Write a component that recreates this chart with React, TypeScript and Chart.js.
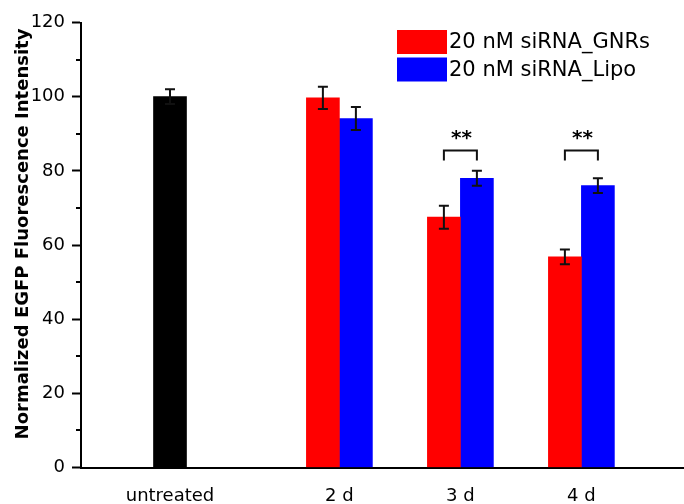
import { useEffect, useRef } from "react";
import { Chart, registerables } from "chart.js";

Chart.register(...registerables);

// Groups along the x axis and where each sits on the (linear) x scale
const categories = ["untreated", "2 d", "3 d", "4 d"];
const categoryX = [1, 2.4, 3.4, 4.4];

// Normalized EGFP fluorescence (mean and ± error)
const untreatedMean = [100, null, null, null];
const untreatedErr = [2, null, null, null];
const gnrsMean = [null, 99.7, 67.5, 56.8];
const gnrsErr = [null, 3.0, 3.1, 2.0];
const lipoMean = [null, 94.1, 78.0, 76.0];
const lipoErr = [null, 3.1, 2.0, 2.0];

const seriesLabels = ["untreated", "20 nM siRNA_GNRs", "20 nM siRNA_Lipo"];

// Significance brackets between the GNRs and Lipo bars
const significance = [
  { category: "3 d", label: "**", y: 85.5 },
  { category: "4 d", label: "**", y: 85.5 },
];

const yMin = 0;
const yMax = 120;
const yStep = 20;
const yTitle = "Normalized EGFP Fluorescence Intensity";

const FONT = "DejaVu Sans";

const toPoints = (values: (number | null)[]) =>
  values.map((y, i) => ({ x: categoryX[i], y }));

// Vertical error bars with caps on every non-empty bar
const errorBarsPlugin = {
  id: "errorBars",
  afterDatasetsDraw(chart: any) {
    const { ctx } = chart;
    const yScale = chart.scales.y;
    chart.data.datasets.forEach((ds: any, di: number) => {
      const meta = chart.getDatasetMeta(di);
      meta.data.forEach((bar: any, i: number) => {
        const v = ds.data[i].y;
        const e = ds.errors?.[i];
        if (v == null || e == null) return;
        const top = yScale.getPixelForValue(v + e);
        const bot = yScale.getPixelForValue(v - e);
        const cap = 5;
        ctx.save();
        ctx.strokeStyle = "#111";
        ctx.lineWidth = 2;
        ctx.beginPath();
        ctx.moveTo(bar.x, top);
        ctx.lineTo(bar.x, bot);
        ctx.moveTo(bar.x - cap, top);
        ctx.lineTo(bar.x + cap, top);
        ctx.moveTo(bar.x - cap, bot);
        ctx.lineTo(bar.x + cap, bot);
        ctx.stroke();
        ctx.restore();
      });
    });
  },
};

// Minor tick marks halfway between the labelled y ticks
const minorTicksPlugin = {
  id: "minorTicks",
  afterDraw(chart: any) {
    const { ctx, chartArea } = chart;
    const yScale = chart.scales.y;
    ctx.save();
    ctx.strokeStyle = "#000";
    ctx.lineWidth = 2;
    ctx.beginPath();
    for (let v = yMin + yStep / 2; v < yMax; v += yStep) {
      const py = Math.round(yScale.getPixelForValue(v));
      ctx.moveTo(chartArea.left - 5, py);
      ctx.lineTo(chartArea.left, py);
    }
    ctx.stroke();
    ctx.restore();
  },
};

// Brackets with stars over each compared pair
const significancePlugin = {
  id: "significance",
  afterDatasetsDraw(chart: any) {
    const { ctx } = chart;
    const yScale = chart.scales.y;
    const gnrsMeta = chart.getDatasetMeta(1);
    const lipoMeta = chart.getDatasetMeta(2);
    significance.forEach((s) => {
      const idx = categories.indexOf(s.category);
      const x1 = gnrsMeta.data[idx].x;
      const x2 = lipoMeta.data[idx].x;
      const py = yScale.getPixelForValue(s.y);
      const leg = 10;
      ctx.save();
      ctx.strokeStyle = "#111";
      ctx.lineWidth = 2;
      ctx.beginPath();
      ctx.moveTo(x1, py + leg);
      ctx.lineTo(x1, py);
      ctx.lineTo(x2, py);
      ctx.lineTo(x2, py + leg);
      ctx.stroke();
      ctx.fillStyle = "#000";
      ctx.font = `bold 20px "${FONT}"`;
      ctx.textAlign = "center";
      ctx.textBaseline = "alphabetic";
      ctx.fillText(s.label, (x1 + x2) / 2 + 1, py - 6);
      ctx.restore();
    });
  },
};

// Legend boxes in the upper right, for the two treatment series
const legendPlugin = {
  id: "boxLegend",
  afterDraw(chart: any) {
    const { ctx } = chart;
    const boxW = 50;
    const boxH = 24;
    const rowH = 27.5;
    const left = 397;
    const top = 30;
    ctx.save();
    ctx.font = `21px "${FONT}"`;
    ctx.textBaseline = "middle";
    ctx.textAlign = "left";
    chart.data.datasets.slice(1).forEach((ds: any, i: number) => {
      const y = top + i * rowH;
      ctx.fillStyle = ds.backgroundColor;
      ctx.fillRect(left, y, boxW, boxH);
      ctx.fillStyle = "#000";
      ctx.fillText(ds.label, left + boxW + 2, y + boxH / 2 + 1);
    });
    ctx.restore();
  },
};

// Rotated y-axis title
const yTitlePlugin = {
  id: "yTitle",
  afterDraw(chart: any) {
    const { ctx, chartArea } = chart;
    const cy = (chartArea.top + chartArea.bottom) / 2 - 11;
    ctx.save();
    ctx.translate(28, cy);
    ctx.rotate(-Math.PI / 2);
    ctx.font = `bold 18px "${FONT}"`;
    ctx.fillStyle = "#000";
    ctx.textAlign = "center";
    ctx.textBaseline = "alphabetic";
    ctx.fillText(yTitle, 0, 0);
    ctx.restore();
  },
};

export default function App() {
  const canvasRef = useRef<HTMLCanvasElement | null>(null);

  useEffect(() => {
    if (!canvasRef.current) return;
    const chart = new Chart(canvasRef.current, {
      type: "bar",
      data: {
        datasets: [
          {
            label: seriesLabels[0],
            data: toPoints(untreatedMean),
            errors: untreatedErr,
            backgroundColor: "#000000",
          } as any,
          {
            label: seriesLabels[1],
            data: toPoints(gnrsMean),
            errors: gnrsErr,
            backgroundColor: "#ff0000",
          } as any,
          {
            label: seriesLabels[2],
            data: toPoints(lipoMean),
            errors: lipoErr,
            backgroundColor: "#0000ff",
          } as any,
        ],
      },
      options: {
        animation: false,
        responsive: false,
        devicePixelRatio: 1,
        skipNull: true,
        barThickness: 33,
        borderWidth: 0,
        layout: { padding: { top: 22.5, right: 0, bottom: 0, left: 0 } },
        plugins: {
          legend: { display: false },
          tooltip: { enabled: false },
        },
        scales: {
          x: {
            type: "linear",
            min: 0.2645,
            max: 5.248,
            offset: false,
            afterBuildTicks: (scale: any) => {
              scale.ticks = categoryX.map((v) => ({ value: v }));
            },
            afterFit: (scale: any) => {
              scale.height = 36.5;
            },
            grid: { display: false, drawTicks: false },
            border: { display: true, color: "#000", width: 2 },
            ticks: {
              autoSkip: false,
              maxRotation: 0,
              padding: 18,
              color: "#000",
              font: { family: FONT, size: 18 },
              callback: (_v: any, i: number) => categories[i],
            },
          },
          y: {
            min: yMin,
            max: yMax,
            afterFit: (scale: any) => {
              scale.width = 81;
            },
            grid: {
              drawOnChartArea: false,
              drawTicks: true,
              tickLength: 9,
              tickWidth: 2,
              tickColor: "#000",
            },
            border: { display: true, color: "#000", width: 2 },
            ticks: {
              stepSize: yStep,
              padding: 7,
              color: "#000",
              font: { family: FONT, size: 18 },
            },
          },
        },
      } as any,
      plugins: [
        errorBarsPlugin,
        minorTicksPlugin,
        significancePlugin,
        legendPlugin,
        yTitlePlugin,
      ],
    });
    return () => chart.destroy();
  }, []);

  return (
    <div
      style={{
        position: "absolute",
        left: 0,
        top: 0,
        width: 684,
        height: 504,
        background: "#fff",
      }}
    >
      <canvas ref={canvasRef} width={684} height={504} />
    </div>
  );
}
